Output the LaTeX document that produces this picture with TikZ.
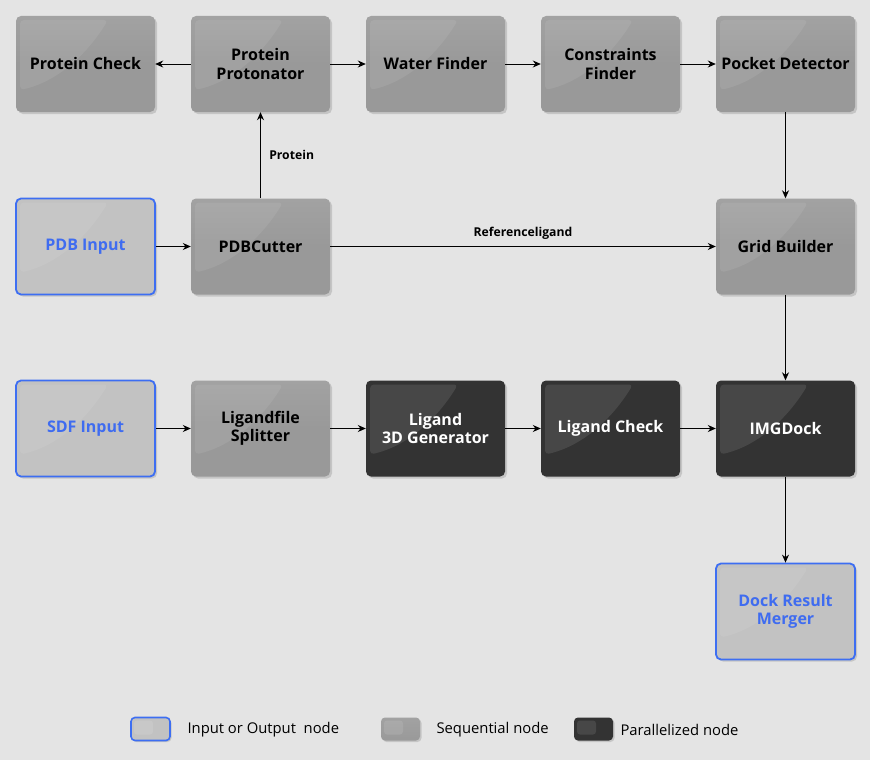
\documentclass[tikz,border=0pt]{standalone}
\usepackage{fontspec}
\setmainfont{Open Sans}
\usetikzlibrary{arrows.meta,shadows}
\definecolor{bgc}{HTML}{E4E4E4}
\definecolor{seqc}{HTML}{999999}
\definecolor{seqtop}{HTML}{A2A2A2}
\definecolor{parc}{HTML}{333333}
\definecolor{ioc}{HTML}{C2C2C2}
\definecolor{blueln}{HTML}{3D6EF2}
\definecolor{bluetx}{HTML}{3F6CF0}
\tikzset{
  gloss/.style={path picture={
    \fill[white,opacity=#1,rounded corners=4pt]
      ([shift={(4,4)}]path picture bounding box.north west)
      -- ([shift={(92,4)}]path picture bounding box.north west)
      .. controls ([shift={(70,40)}]path picture bounding box.north west)
         and ([shift={(40,66)}]path picture bounding box.north west) ..
      ([shift={(4,74)}]path picture bounding box.north west) -- cycle;}},
  minigloss/.style={path picture={
    \fill[white,opacity=#1,rounded corners=3pt]
      ([shift={(3,3)}]path picture bounding box.north west)
      -- ([shift={(22,3)}]path picture bounding box.north west)
      -- ([shift={(22,17)}]path picture bounding box.north west)
      -- ([shift={(3,17)}]path picture bounding box.north west) -- cycle;}},
  box/.style={rounded corners=5pt, minimum width=139pt, minimum height=96pt,
    align=center, inner sep=2pt,
    font=\fontsize{16}{18.5}\selectfont\bfseries,
    drop shadow={shadow xshift=2pt, shadow yshift=-2pt, opacity=0.3}},
  seqnode/.style={box, top color=seqtop, bottom color=seqc, middle color=seqc,
    draw=none, text=black, gloss=0.08},
  parnode/.style={box, fill=parc, draw=none, text=white, gloss=0.1},
  ionode/.style={box, fill=ioc, draw=blueln, line width=1.8pt, text=bluetx, gloss=0.08},
  legbox/.style={rounded corners=4pt, minimum width=39pt, minimum height=23pt,
    drop shadow={shadow xshift=1.5pt, shadow yshift=-1.5pt, opacity=0.3}},
  flow/.style={-{Stealth[length=8pt,width=7pt]}, line width=0.9pt, black},
  elabel/.style={font=\fontsize{12.2}{14}\selectfont\bfseries, text=black},
  legtext/.style={font=\fontsize{14.8}{17}\selectfont, text=black, anchor=west}
}
\begin{document}
\begin{tikzpicture}[x=1pt,y=-1pt]
\useasboundingbox (0,0) rectangle (870,760);
\fill[bgc] (0,0) rectangle (870,760);

% first row: protein preparation
\node[seqnode] (pcheck) at (85.5,64) {Protein Check};
\node[seqnode] (pprot)  at (260.5,64) {Protein\\Protonator};
\node[seqnode] (water)  at (435.5,64) {Water Finder};
\node[seqnode] (constr) at (610.5,64) {Constraints\\Finder};
\node[seqnode] (pocket) at (785.5,64) {Pocket Detector};

% second row
\node[ionode]  (pdbin)  at (85.5,246.5) {PDB Input};
\node[seqnode] (cutter) at (260.5,246.5) {PDBCutter};
\node[seqnode] (grid)   at (785.5,246.5) {Grid Builder};

% third row: ligand preparation and docking
\node[ionode]  (sdfin)  at (85.5,428.5) {SDF Input};
\node[seqnode] (split)  at (260.5,428.5) {Ligandfile\\Splitter};
\node[parnode] (gen3d)  at (435.5,428.5) {Ligand\\3D Generator};
\node[parnode] (lcheck) at (610.5,428.5) {Ligand Check};
\node[parnode] (dock)   at (785.5,428.5) {IMGDock};

% output
\node[ionode]  (merge)  at (785.5,611.5) {Dock Result\\Merger};

% connectors
\draw[flow] (pprot) -- (pcheck);
\draw[flow] (pprot) -- (water);
\draw[flow] (water) -- (constr);
\draw[flow] (constr) -- (pocket);
\draw[flow] (cutter) -- node[elabel, right=5pt] {Protein} (pprot);
\draw[flow] (pdbin) -- (cutter);
\draw[flow] (cutter) -- node[elabel, above=3pt] {Referenceligand} (grid);
\draw[flow] (pocket) -- (grid);
\draw[flow] (grid) -- (dock);
\draw[flow] (sdfin) -- (split);
\draw[flow] (split) -- (gen3d);
\draw[flow] (gen3d) -- (lcheck);
\draw[flow] (lcheck) -- (dock);
\draw[flow] (dock) -- (merge);

% legend
\node[legbox, fill=ioc, draw=blueln, line width=1.6pt, minigloss=0.1] (lio) at (150.5,729) {};
\node[legtext] (tio) at (184,729.5) {Input or Output\ \ node};
\node[legbox, top color=seqtop, bottom color=seqc, minigloss=0.1] (lseq) at (400.5,729) {};
\node[legtext] (tseq) at (433,729.5) {Sequential node};
\node[legbox, fill=parc, minigloss=0.1] (lpar) at (593.5,729) {};
\node[legtext] (tpar) at (617,729.5) {Parallelized node};
\end{tikzpicture}
\end{document}
